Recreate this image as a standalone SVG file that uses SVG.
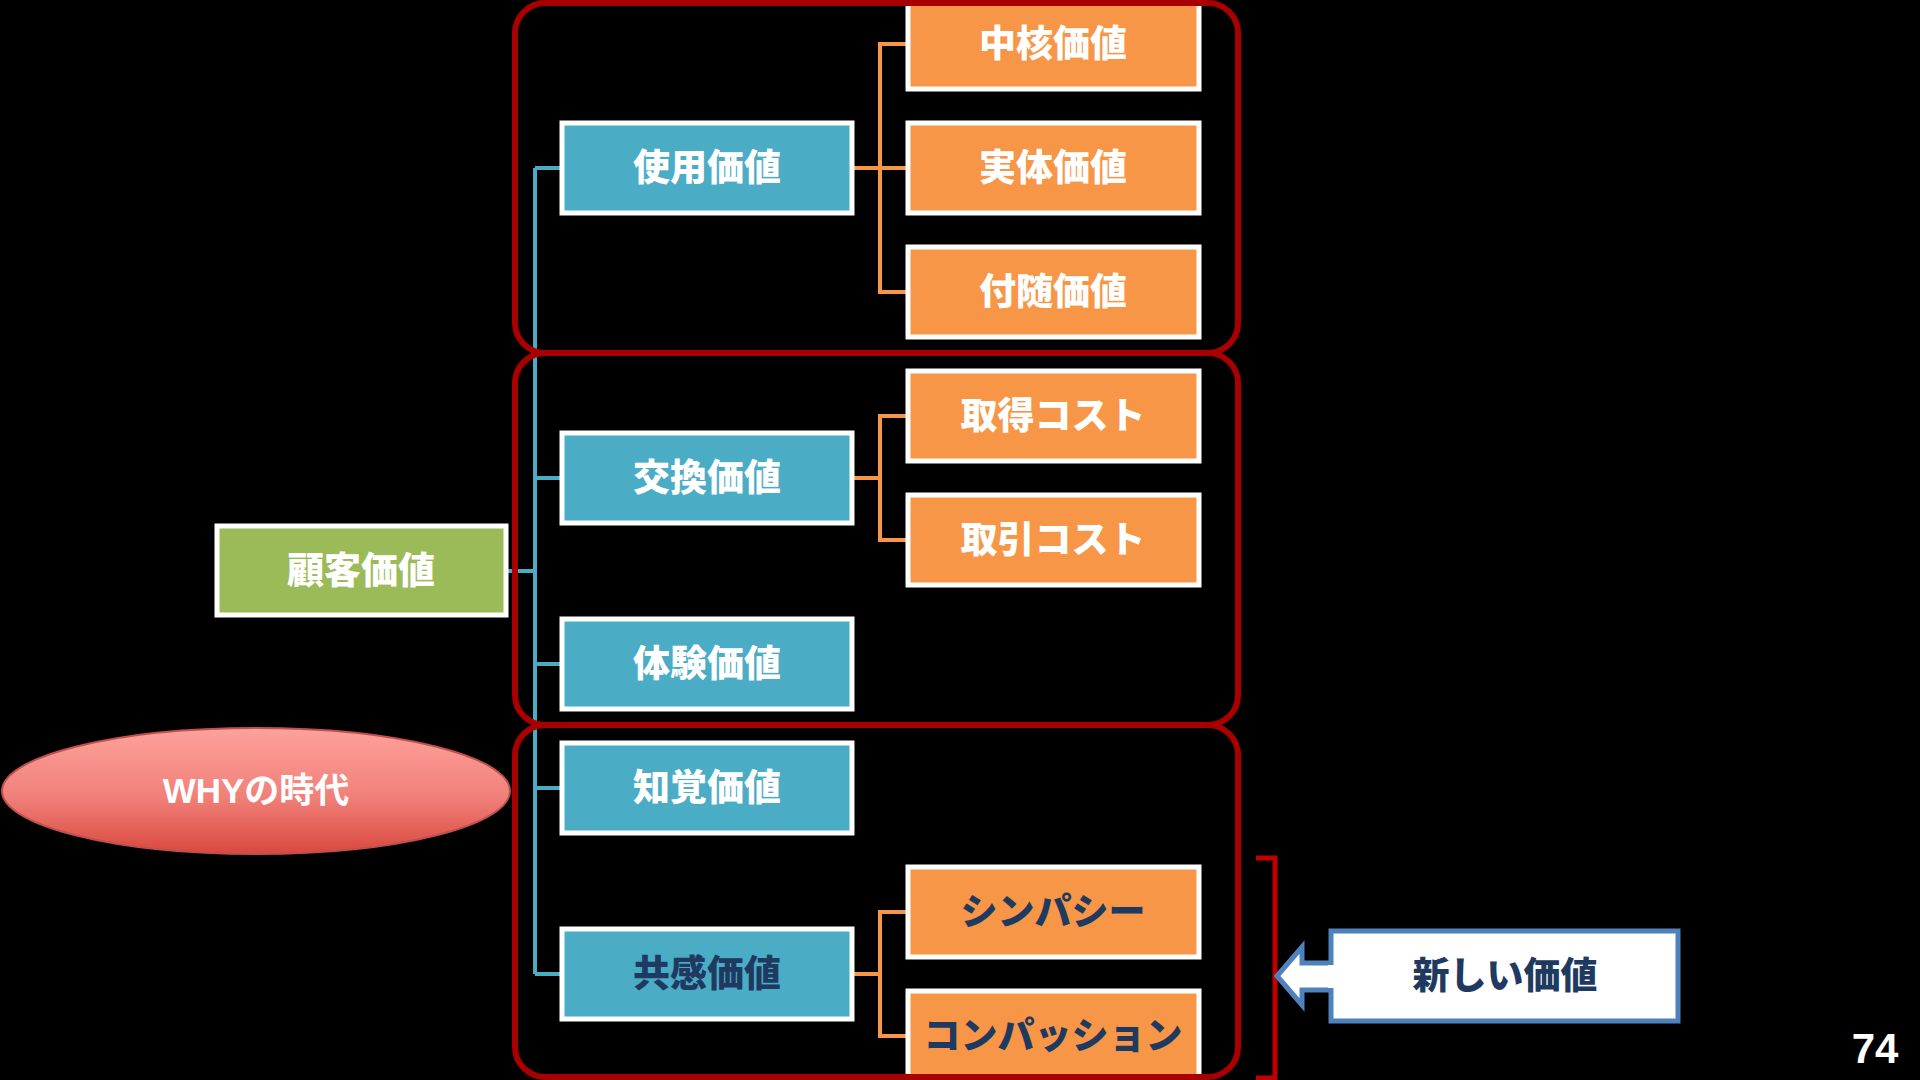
<svg xmlns="http://www.w3.org/2000/svg" width="1920" height="1080" viewBox="0 0 1920 1080">
<defs>
<linearGradient id="whyGrad" x1="0" y1="0" x2="0" y2="1">
<stop offset="0" stop-color="#ffa19c"/>
<stop offset="0.55" stop-color="#f08079"/>
<stop offset="1" stop-color="#d9483e"/>
</linearGradient>
<style>
.t{font-family:"Noto Sans CJK JP","Noto Sans",sans-serif;font-weight:900;font-size:37px;text-anchor:middle;dominant-baseline:central}
.w{fill:#ffffff}
.n{fill:#1f3a60}
.blue{fill:#4bacc6;stroke:#ffffff;stroke-width:5}
.orange{fill:#f79646;stroke:#ffffff;stroke-width:5}
.green{fill:#9bbb59;stroke:#ffffff;stroke-width:5}
.cb{fill:none;stroke:#4bacc6;stroke-width:4}
.co{fill:none;stroke:#f79646;stroke-width:4}
.grp{fill:none;stroke:#a80000;stroke-width:6}
</style>
</defs>
<rect x="0" y="0" width="1920" height="1080" fill="#000000"/>

<g id="connectors">
<path class="cb" d="M507,571 H535 M535,168 V974 M535,168 H561 M535,478 H561 M535,664 H561 M535,788 H561 M535,974 H561"/>
<path class="co" d="M853,168 H880 M907,44 H880 V292 H907 M880,168 H907"/>
<path class="co" d="M853,478 H880 M907,416 H880 V540 H907"/>
<path class="co" d="M853,974 H880 M907,912 H880 V1036 H907"/>
</g>

<g id="node-kokyaku"><rect class="green" x="217" y="526" width="289" height="89"/><text class="t w" x="361" y="568">顧客価値</text></g>

<g id="node-shiyou"><rect class="blue" x="562" y="123" width="290" height="90"/><text class="t w" x="707" y="165">使用価値</text></g>
<g id="node-koukan"><rect class="blue" x="562" y="433" width="290" height="90"/><text class="t w" x="707" y="475">交換価値</text></g>
<g id="node-taiken"><rect class="blue" x="562" y="619" width="290" height="90"/><text class="t w" x="707" y="661">体験価値</text></g>
<g id="node-chikaku"><rect class="blue" x="562" y="743" width="290" height="90"/><text class="t w" x="707" y="785">知覚価値</text></g>
<g id="node-kyoukan"><rect class="blue" x="562" y="929" width="290" height="90"/><text class="t n" x="707" y="971">共感価値</text></g>

<g id="node-chukaku"><rect class="orange" x="908" y="-1" width="291" height="90"/><text class="t w" x="1053" y="41">中核価値</text></g>
<g id="node-jittai"><rect class="orange" x="908" y="123" width="291" height="90"/><text class="t w" x="1053" y="165">実体価値</text></g>
<g id="node-fuzui"><rect class="orange" x="908" y="247" width="291" height="90"/><text class="t w" x="1053" y="289">付随価値</text></g>
<g id="node-shutoku"><rect class="orange" x="908" y="371" width="291" height="90"/><text class="t w" x="1053" y="413">取得コスト</text></g>
<g id="node-torihiki"><rect class="orange" x="908" y="495" width="291" height="90"/><text class="t w" x="1053" y="537">取引コスト</text></g>
<g id="node-sympathy"><rect class="orange" x="908" y="867" width="291" height="90"/><text class="t n" x="1053" y="909">シンパシー</text></g>
<g id="node-compassion"><rect class="orange" x="908" y="991" width="291" height="92"/><text class="t n" x="1053" y="1033">コンパッション</text></g>

<g id="groups">
<rect class="grp" x="515" y="3" width="723" height="350" rx="30" ry="30"/>
<rect class="grp" x="515" y="353" width="723" height="372" rx="30" ry="30"/>
<rect class="grp" x="515" y="725" width="723" height="352" rx="30" ry="30"/>
</g>

<g id="node-why">
<ellipse cx="256" cy="791" rx="254" ry="63" fill="url(#whyGrad)" stroke="#c0504d" stroke-width="2"/>
<text x="256" y="790" font-family="'Liberation Sans','Noto Sans CJK JP',sans-serif" font-weight="bold" font-size="35" fill="#ffffff" text-anchor="middle" dominant-baseline="central">WHYの時代</text>
</g>

<g id="bracket">
<path d="M1256,858 H1275 V1078 H1256" fill="none" stroke="#c00000" stroke-width="5"/>
</g>

<g id="node-atarashii">
<path d="M1331,931 H1678 V1021 H1331 V990 H1302 V1005 L1277,976 L1302,947 V963 H1331 Z" fill="#ffffff" stroke="#4f81bd" stroke-width="5" stroke-linejoin="miter"/>
<path d="M1331,965 V988" stroke="#ffffff" stroke-width="6"/>
<text class="t n" x="1505" y="973">新しい価値</text>
</g>

<text x="1875" y="1063" font-family="'Liberation Sans',sans-serif" font-weight="bold" font-size="42" fill="#ffffff" text-anchor="middle">74</text>
</svg>
